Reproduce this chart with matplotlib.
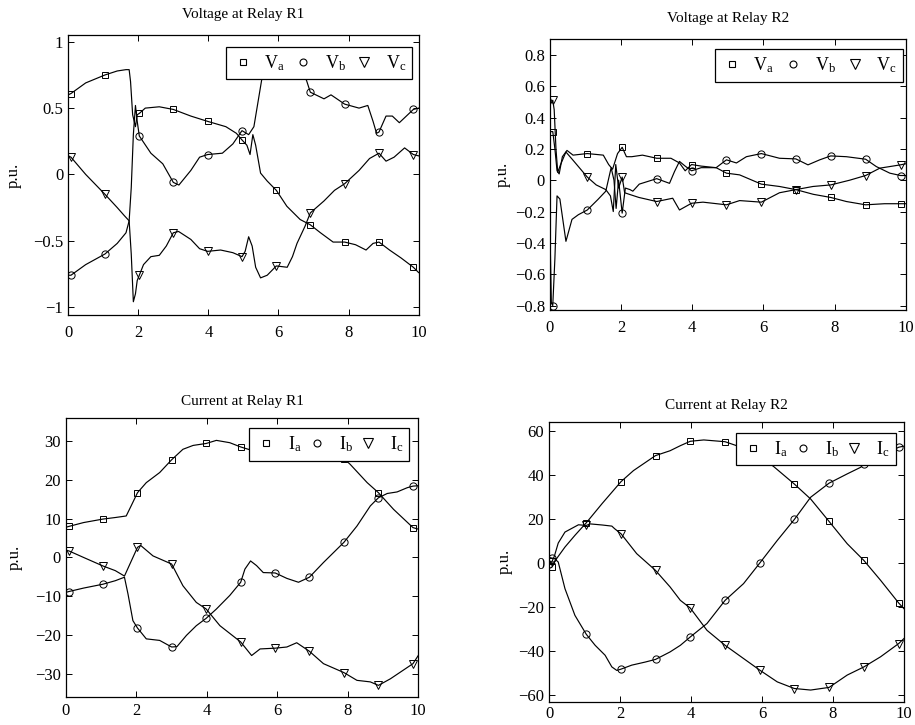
import numpy as np
import matplotlib
matplotlib.use('Agg')
import matplotlib.pyplot as plt
from matplotlib.lines import Line2D

plt.rcParams['font.family'] = ['Liberation Serif', 'DejaVu Serif']
plt.rcParams['mathtext.fontset'] = 'custom'
plt.rcParams['mathtext.rm'] = 'Liberation Serif'
plt.rcParams['mathtext.it'] = 'Liberation Serif:italic'

# sample times where the phase markers are drawn
t_mark = [0.08, 1.05, 2.03, 3.0, 3.98, 4.96, 5.94, 6.91, 7.89, 8.87, 9.85]

# ---- Voltage at Relay R1 ----
v1a_t = [0.0, 0.08, 0.5, 1.05, 1.4, 1.65, 1.74, 1.78, 1.84, 1.92, 1.97, 2.03, 2.2, 2.6, 3.0, 3.5, 3.98,
         4.5, 4.8, 4.96, 5.1, 5.19, 5.27, 5.35, 5.49, 5.68, 5.94, 6.24, 6.62, 6.91, 7.2, 7.56, 7.89,
         8.2, 8.5, 8.7, 8.87, 9.17, 9.5, 9.85, 10.0]
v1a = [0.60, 0.61, 0.69, 0.75, 0.78, 0.79, 0.79, 0.70, 0.45, 0.36, 0.45, 0.46, 0.50, 0.51, 0.49, 0.44, 0.40,
       0.36, 0.31, 0.26, 0.22, 0.15, 0.30, 0.22, 0.01, -0.05, -0.12, -0.24, -0.34, -0.38, -0.44, -0.51, -0.51,
       -0.53, -0.57, -0.52, -0.51, -0.57, -0.63, -0.70, -0.74]
v1b_t = [0.0, 0.08, 0.5, 1.05, 1.4, 1.65, 1.74, 1.8, 1.86, 1.92, 1.97, 2.03, 2.36, 2.7, 3.0, 3.16, 3.5,
         3.75, 3.98, 4.4, 4.7, 4.96, 5.15, 5.3, 5.52, 5.75, 5.94, 6.2, 6.5, 6.8, 6.91, 7.3, 7.5, 7.89,
         8.3, 8.55, 8.7, 8.8, 8.87, 9.07, 9.25, 9.45, 9.65, 9.85, 10.0]
v1b = [-0.76, -0.76, -0.68, -0.60, -0.52, -0.44, -0.35, -0.10, 0.30, 0.52, 0.40, 0.29, 0.16, 0.08, -0.06,
       -0.08, 0.03, 0.13, 0.15, 0.16, 0.23, 0.33, 0.30, 0.36, 0.71, 0.88, 0.92, 0.90, 0.82, 0.71, 0.62,
       0.57, 0.60, 0.53, 0.50, 0.52, 0.40, 0.31, 0.32, 0.44, 0.44, 0.39, 0.44, 0.49, 0.50]
v1c_t = [0.0, 0.08, 0.5, 1.05, 1.4, 1.6, 1.74, 1.8, 1.86, 1.92, 1.97, 2.03, 2.15, 2.36, 2.6, 2.8, 3.0,
         3.15, 3.5, 3.75, 3.98, 4.35, 4.7, 4.96, 5.05, 5.15, 5.25, 5.35, 5.49, 5.68, 5.94, 6.25, 6.4,
         6.53, 6.76, 6.91, 7.3, 7.6, 7.89, 8.3, 8.6, 8.87, 9.07, 9.3, 9.6, 9.85, 10.0]
v1c = [0.14, 0.13, 0.0, -0.15, -0.25, -0.31, -0.35, -0.60, -0.96, -0.90, -0.80, -0.76, -0.68, -0.62,
       -0.61, -0.54, -0.44, -0.43, -0.49, -0.56, -0.58, -0.57, -0.59, -0.62, -0.58, -0.47, -0.54, -0.70,
       -0.78, -0.76, -0.69, -0.70, -0.62, -0.52, -0.39, -0.29, -0.20, -0.12, -0.07, 0.03, 0.12, 0.16,
       0.10, 0.13, 0.20, 0.15, 0.14]

# ---- Voltage at Relay R2 ----
v2a_t = [0.0, 0.08, 0.14, 0.2, 0.26, 0.35, 0.48, 0.65, 1.05, 1.5, 1.65, 1.76, 1.9, 2.03, 2.15, 2.3, 2.6,
         3.0, 3.4, 3.64, 3.8, 3.98, 4.25, 4.67, 4.96, 5.33, 5.94, 6.45, 6.91, 7.4, 7.89, 8.33, 8.87,
         9.4, 9.85, 10.0]
v2a = [0.31, 0.31, 0.20, 0.06, 0.04, 0.15, 0.19, 0.16, 0.17, 0.16, 0.10, 0.07, 0.17, 0.21, 0.15, 0.15,
       0.16, 0.14, 0.14, 0.11, 0.06, 0.10, 0.09, 0.08, 0.045, 0.034, -0.025, -0.04, -0.06, -0.09, -0.11,
       -0.136, -0.157, -0.15, -0.15, -0.15]
v2b_t = [0.0, 0.04, 0.08, 0.14, 0.2, 0.28, 0.45, 0.62, 0.8, 1.05, 1.34, 1.57, 1.72, 1.8, 1.86, 1.93,
         2.03, 2.12, 2.25, 2.33, 2.51, 3.0, 3.36, 3.5, 3.64, 3.8, 3.98, 4.25, 4.67, 4.96, 5.24, 5.52,
         5.94, 6.45, 6.91, 7.25, 7.58, 7.89, 8.33, 8.87, 9.17, 9.55, 9.85, 10.0]
v2b = [-0.30, -0.78, -0.80, -0.50, -0.10, -0.12, -0.39, -0.25, -0.22, -0.19, -0.125, -0.07, 0.08, 0.0,
       -0.18, 0.0, -0.21, -0.05, -0.06, -0.07, -0.025, 0.01, -0.02, 0.055, 0.12, 0.09, 0.06, 0.08, 0.08,
       0.13, 0.11, 0.15, 0.17, 0.14, 0.136, 0.098, 0.13, 0.155, 0.15, 0.134, 0.087, 0.045, 0.03, 0.03]
v2c_t = [0.0, 0.08, 0.12, 0.17, 0.22, 0.3, 0.45, 0.64, 1.05, 1.3, 1.57, 1.7, 1.78, 1.85, 1.93, 2.03,
         2.1, 2.23, 2.5, 3.0, 3.45, 3.64, 3.98, 4.3, 4.96, 5.33, 5.94, 6.45, 6.91, 7.39, 7.89, 8.42,
         8.87, 9.27, 9.85, 10.0]
v2c = [0.48, 0.51, 0.45, 0.20, 0.05, 0.10, 0.18, 0.13, 0.02, -0.03, -0.06, -0.10, -0.20, 0.10, -0.05,
       0.02, -0.08, -0.09, -0.11, -0.136, -0.115, -0.19, -0.147, -0.14, -0.157, -0.13, -0.14, -0.08,
       -0.06, -0.04, -0.03, 0.0, 0.03, 0.077, 0.098, 0.105]

# ---- Current at Relay R1 ----
i1a_t = [0.0, 0.08, 0.5, 1.05, 1.4, 1.71, 1.85, 2.03, 2.28, 2.66, 3.0, 3.32, 3.61, 3.98, 4.27, 4.65,
         4.96, 5.32, 5.94, 6.5, 6.91, 7.5, 7.89, 8.07, 8.55, 8.87, 9.3, 9.85, 10.0]
i1a = [7.8, 8.0, 9.0, 9.9, 10.3, 10.7, 13.3, 16.7, 19.3, 21.9, 25.2, 27.9, 28.9, 29.4, 30.2, 29.6,
       28.5, 27.5, 28.5, 29.0, 29.0, 27.5, 25.5, 24.0, 19.3, 16.7, 12.4, 7.7, 7.3]
i1b_t = [0.0, 0.08, 0.5, 1.05, 1.4, 1.66, 1.76, 1.9, 2.03, 2.28, 2.66, 3.0, 3.15, 3.42, 3.7, 3.98, 4.27,
         4.65, 4.96, 5.08, 5.24, 5.41, 5.6, 5.94, 6.27, 6.6, 6.91, 7.31, 7.89, 8.26, 8.64, 8.87, 9.12,
         9.4, 9.69, 9.85, 10.0]
i1b = [-9.0, -8.8, -7.9, -6.9, -6.0, -5.1, -9.4, -16.3, -18.2, -21.0, -21.4, -23.1, -23.0, -20.1,
       -17.6, -15.7, -13.3, -9.8, -6.4, -3.0, -0.9, -2.1, -3.9, -4.0, -5.4, -6.4, -5.1, -1.3, 3.9, 8.1,
       13.3, 15.4, 16.5, 16.9, 18.0, 18.4, 18.5]
i1c_t = [0.0, 0.08, 0.5, 1.05, 1.4, 1.66, 2.03, 2.12, 2.47, 3.0, 3.32, 3.7, 3.98, 4.37, 4.96, 5.27,
         5.51, 5.94, 6.27, 6.55, 6.91, 7.31, 7.89, 8.26, 8.64, 8.87, 9.21, 9.85, 10.0]
i1c = [1.8, 1.7, 0.0, -2.2, -3.4, -4.8, 2.6, 3.1, 0.4, -1.7, -7.3, -11.6, -13.3, -17.6, -21.8, -25.3,
       -23.6, -23.4, -23.1, -22.0, -24.2, -27.4, -29.7, -31.7, -32.1, -33.0, -31.3, -27.4, -25.3]

# ---- Current at Relay R2 ----
i2a_t = [0.0, 0.08, 0.15, 0.45, 0.73, 1.05, 1.5, 2.03, 2.38, 3.0, 3.41, 3.7, 3.98, 4.36, 4.96, 5.5,
         5.94, 6.33, 6.91, 7.37, 7.89, 8.4, 8.87, 9.34, 9.85, 10.0]
i2a = [-2.5, -2.0, 0.5, 7.2, 12.5, 18.2, 27.0, 36.9, 41.9, 48.7, 50.9, 53.2, 55.2, 55.8, 55.0, 52.0,
       48.5, 43.7, 35.8, 29.0, 18.8, 8.7, 1.1, -7.9, -18.2, -20.8]
i2b_t = [0.0, 0.08, 0.15, 0.26, 0.45, 0.73, 1.05, 1.3, 1.58, 1.77, 1.91, 2.03, 2.33, 2.71, 3.0, 3.41,
         3.7, 3.98, 4.45, 4.96, 5.48, 5.94, 6.43, 6.91, 7.37, 7.89, 8.4, 8.78, 8.87, 9.3, 9.85, 10.0]
i2b = [2.5, 2.2, 2.0, 0.4, -11.7, -23.8, -32.4, -37.4, -41.9, -47.2, -48.8, -48.2, -46.4, -45.0, -43.8,
       -40.4, -37.4, -33.6, -27.5, -17.0, -9.4, 0.0, 10.2, 19.7, 29.8, 36.2, 40.4, 43.4, 45.0, 48.0,
       52.5, 53.0]
i2c_t = [0.0, 0.08, 0.15, 0.26, 0.45, 0.83, 1.05, 1.16, 1.5, 1.77, 1.85, 2.03, 2.47, 3.0, 3.41, 3.7,
         3.98, 4.45, 4.96, 5.48, 5.94, 6.43, 6.91, 7.37, 7.89, 8.4, 8.87, 9.34, 9.85, 10.0]
i2c = [-0.5, 0.5, 3.0, 9.0, 14.0, 17.3, 17.0, 17.7, 17.2, 16.7, 15.5, 13.2, 4.2, -3.4, -10.9, -17.0,
       -20.5, -30.6, -37.4, -43.4, -48.7, -54.0, -57.0, -57.7, -56.5, -50.9, -47.2, -42.6, -36.6, -34.3]

titles = ['Voltage at Relay R1', 'Voltage at Relay R2', 'Current at Relay R1', 'Current at Relay R2']
v_labels = ['V$_\\mathrm{a}$', 'V$_\\mathrm{b}$', 'V$_\\mathrm{c}$']
i_labels = ['I$_\\mathrm{a}$', 'I$_\\mathrm{b}$', 'I$_\\mathrm{c}$']
markers = ['s', 'o', 'v']
mark_size = {'s': 4.8, 'o': 5.2, 'v': 6.0}


def draw_panel(ax, series, labels, title, ylim, yticks, ytick_labels, leg_anchor, colspace,
               title_pad, ylabel_pad, xpad):
    for (t, y), m in zip(series, markers):
        t = np.array(t)
        ax.plot(t, y, color='k', lw=0.85, marker=m, ms=mark_size[m], mew=0.7, mfc='none',
                markevery=np.isin(t, t_mark))
    ax.set_xlim(0, 10)
    ax.set_ylim(*ylim)
    ax.set_xticks(range(0, 11, 2))
    ax.set_yticks(yticks)
    ax.set_yticklabels(ytick_labels)
    ax.tick_params(direction='in', top=True, right=True, labelsize=12, length=4, width=0.7)
    ax.tick_params(axis='x', pad=xpad)
    for s in ax.spines.values():
        s.set_linewidth(0.9)
    ax.set_title(title, fontsize=11, pad=title_pad)
    ax.set_ylabel('p.u.', fontsize=12, labelpad=ylabel_pad)
    handles = [Line2D([], [], ls='none', marker=m, ms={'s': 4.5, 'o': 5.0, 'v': 7.0}[m], mew=0.8,
                      mfc='none', color='k') for m in markers]
    leg = ax.legend(handles, labels, ncol=3, loc='upper right', bbox_to_anchor=leg_anchor,
                    borderaxespad=0, fontsize=13, handlelength=1.2, handletextpad=0.6,
                    columnspacing=colspace, fancybox=False, framealpha=1, edgecolor='k',
                    borderpad=0.35)
    leg.get_frame().set_linewidth(0.9)


fig = plt.figure(figsize=(9.15, 7.25), dpi=100)
ax1 = fig.add_axes([0.0745, 0.5655, 0.383, 0.386])
ax2 = fig.add_axes([0.601, 0.572, 0.389, 0.374])
ax3 = fig.add_axes([0.0721, 0.0386, 0.385, 0.385])
ax4 = fig.add_axes([0.600, 0.0321, 0.388, 0.386])

draw_panel(ax1, [(v1a_t, v1a), (v1b_t, v1b), (v1c_t, v1c)], v_labels, titles[0],
           (-1.06, 1.05), [-1, -0.5, 0, 0.5, 1], ['\u22121', '\u22120.5', '0', '0.5', '1'],
           (0.982, 0.958), 0.4, 12.5, 8, 7)
draw_panel(ax2, [(v2a_t, v2a), (v2b_t, v2b), (v2c_t, v2c)], v_labels, titles[1],
           (-0.83, 0.9), np.arange(-0.8, 0.81, 0.2),
           ['\u22120.8', '\u22120.6', '\u22120.4', '\u22120.2', '0', '0.2', '0.4', '0.6', '0.8'],
           (0.992, 0.962), 0.45, 12.5, 3, 7)
draw_panel(ax3, [(i1a_t, i1a), (i1b_t, i1b), (i1c_t, i1c)], i_labels, titles[2],
           (-36, 36), [-30, -20, -10, 0, 10, 20, 30],
           ['\u221230', '\u221220', '\u221210', '0', '10', '20', '30'],
           (0.975, 0.963), 0.25, 9, 9, 4)
draw_panel(ax4, [(i2a_t, i2a), (i2b_t, i2b), (i2c_t, i2c)], i_labels, titles[3],
           (-63, 64), [-60, -40, -20, 0, 20, 40, 60],
           ['\u221260', '\u221240', '\u221220', '0', '20', '40', '60'],
           (0.977, 0.962), 0.25, 9, 4, 3)

fig.savefig('out.png', dpi=100)
